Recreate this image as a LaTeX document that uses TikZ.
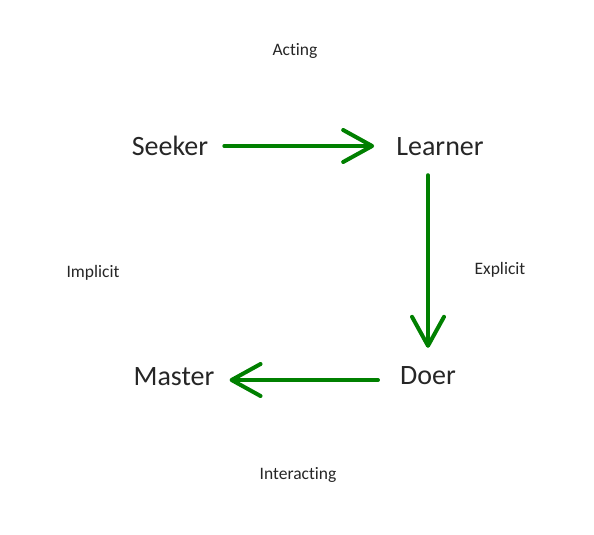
\documentclass[tikz,border=0pt]{standalone}
\usepackage{fontspec}
\setmainfont[Ligatures=NoCommon]{Carlito}
\usetikzlibrary{arrows.meta}
\definecolor{arrowgreen}{RGB}{0,128,0}
\tikzset{
  mainlabel/.style={inner sep=0pt, text height=18pt, text depth=0pt, anchor=base, font=\fontsize{28}{32}\selectfont, text=black!85},
  sublabel/.style={inner sep=0pt, anchor=base, font=\fontsize{17.5}{20}\selectfont, text=black!85},
  flow/.style={draw=arrowgreen, line width=4pt, line cap=round,
    -{Straight Barb[length=29pt,width=32pt,round]}}
}
\begin{document}
\begin{tikzpicture}[x=1pt,y=-1pt]
\useasboundingbox (0,0) rectangle (594,535);
\node[mainlabel] (seeker) at (170,155) {Seeker};
\node[mainlabel] (learner) at (440,155) {Learner};
\node[mainlabel] (master) at (174,385) {Master};
\node[mainlabel] (doer) at (428,384) {Doer};
\node[sublabel] (acting) at (295,56) {Acting};
\node[sublabel] (implicit) at (93,277) {Implicit};
\node[sublabel] (explicit) at (500,274) {Explicit};
\node[sublabel] (interacting) at (298,479) {Interacting};
\draw[flow, shorten <=16pt, shorten >=22pt] (seeker.east) -- (seeker.east -| learner.west);
\draw[flow, shorten <=20pt, shorten >=18pt] (doer.north |- learner.south) -- (doer.north);
\draw[flow, shorten <=22pt, shorten >=15pt] ([yshift=-5pt]doer.west) -- ([yshift=-5pt]doer.west -| master.east);
\end{tikzpicture}
\end{document}
